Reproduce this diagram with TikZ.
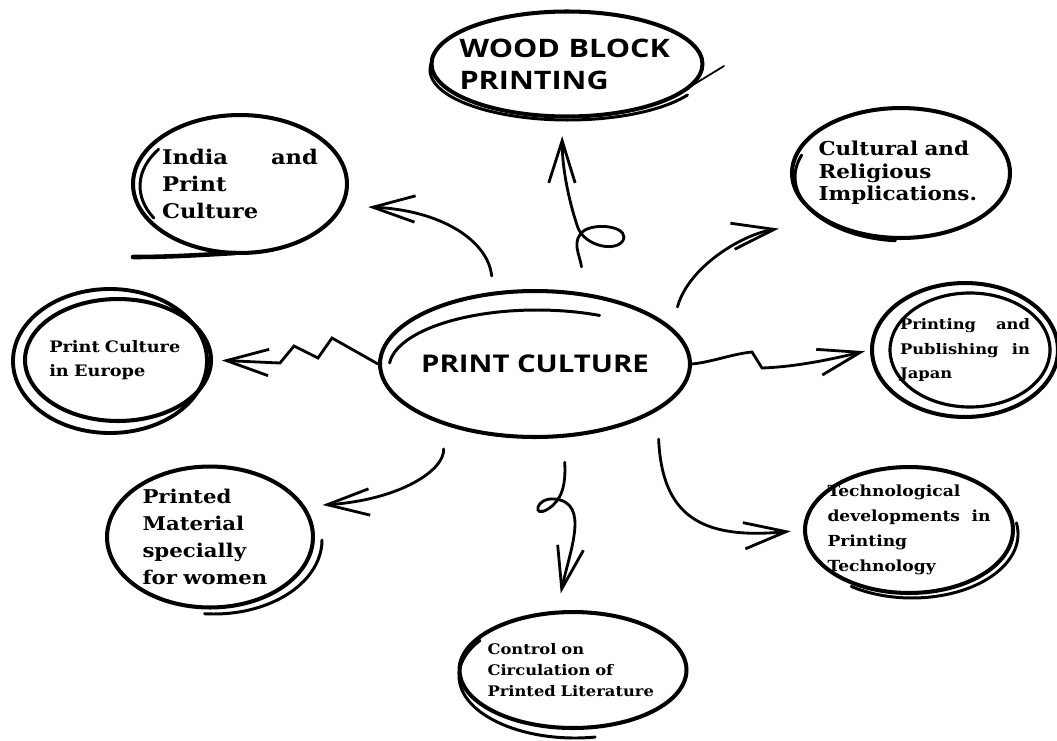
\documentclass[tikz,border=0pt]{standalone}
\usepackage{fontspec}
\usetikzlibrary{shapes.geometric,arrows.meta}
\newfontfamily\bubfont[FakeStretch=1.12]{DejaVu Serif}
\newfontfamily\headfont[FakeStretch=1.2]{Open Sans}
\newcommand\bubsize[2]{\bubfont\bfseries\fontsize{#1}{#2}\selectfont}
\newcommand\headsize[2]{\headfont\bfseries\fontsize{#1}{#2}\selectfont}
\tikzset{
  bubble/.style={ellipse, draw, line width=2.3pt, inner xsep=-15pt, inner ysep=-6pt, align=left},
  ring/.style={line width=1.7pt, line cap=round},
  arr/.style={line width=1.6pt, line cap=round, -{Straight Barb[length=24pt,width=15pt]}}
}
\begin{document}
\begin{tikzpicture}[x=0.02cm, y=-0.02cm]
\useasboundingbox (0,0) rectangle (1057,740);

%centre
\node[bubble, minimum width=6.2cm, minimum height=2.92cm, font=\headsize{13.9}{17}] (pc) at (535,364) {PRINT CULTURE};

%topics
\node[bubble, minimum width=5.42cm, minimum height=2.1cm, text width=4.3cm, font=\headsize{14.5}{18.2}] (wood) at (567,64) {WOOD BLOCK\\PRINTING};
\node[bubble, minimum width=4.28cm, minimum height=2.76cm, text width=3.12cm, font=\bubsize{11.5}{15.4}] (india) at (240,184) {India\hfill and\\Print\\Culture};
\node[bubble, minimum width=4.36cm, minimum height=2.6cm, text width=3.3cm, font=\bubsize{10.9}{12.8}] (cultural) at (901,173) {Cultural and\\Religious\\Implications.};
\node[bubble, minimum width=3.72cm, minimum height=2.44cm, text width=2.75cm, font=\bubsize{9}{13.7}] (europe) at (118,360) {Print Culture\\in Europe};
\node[bubble, minimum width=3.72cm, minimum height=2.68cm, text width=2.6cm, font=\bubsize{8.3}{14.2}] (japan) at (965,350) {Printing\hfill and\\Publishing\hfill in\\Japan};
\node[bubble, minimum width=4.12cm, minimum height=2.82cm, text width=2.7cm, font=\bubsize{10.8}{15.4}] (women) at (210,537) {Printed\\Material\\specially\\for women};
\node[bubble, minimum width=4.16cm, minimum height=2.52cm, text width=3.26cm, font=\bubsize{8.7}{14.2}] (tech) at (909,530) {Technological\\developments\hfill in\\Printing\\Technology};
\node[bubble, minimum width=4.54cm, minimum height=2.32cm, text width=3.42cm, font=\bubsize{8.3}{11.7}] (control) at (573,670) {Control on\\Circulation of\\Printed Literature};

%second strokes
\foreach \cx/\cy/\rx/\ry/\a/\b in {537/368/148/58/185/295, 568/70/138/50/30/190, 243/186/103/64/150/215, 905/177/110/64/95/200, 214/540/108/74/0/95, 912/534/106/64/-10/125, 575/676/116/62/80/215}
  \draw[ring] (\cx,\cy) ++(\a:{\rx} and {\ry}) arc[start angle=\a, end angle=\b, x radius=\rx, y radius=\ry];
\draw[ring, line width=2.2pt] (110,361) ellipse [x radius=97, y radius=72];
\draw[ring, line width=1.8pt] (970,350) ellipse [x radius=80, y radius=57];
\draw[ring, line width=2.6pt] (133,257) .. controls (170,257) and (200,255) .. (235,253);
\draw[ring, line width=1pt] (688,88) -- (724,66);

%arrows
\draw[arr, shorten <=15pt, shorten >=10pt] (pc.55) .. controls (580,255) and (570,240) .. (585,230) .. controls (600,222) and (632,228) .. (622,242) .. controls (612,252) and (585,245) .. (578,228) .. controls (570,205) and (562,170) .. (wood.265);
\draw[arr, shorten <=9pt, shorten >=14pt] (pc.120) .. controls (488,240) and (440,210) .. (india.-12);
\draw[arr, shorten <=12pt, shorten >=26pt] (pc.15) .. controls (688,268) and (740,235) .. (cultural.212);
\draw[arr, shorten >=5pt] (pc.west) -- (332,338) -- (318,358) -- (294,346) -- (280,363) -- (europe.east);
\draw[arr, shorten >=3pt] (pc.east) .. controls (712,362) and (732,354) .. (752,352) -- (762,368) .. controls (790,367) and (820,362) .. (japan.west);
\draw[arr, shorten <=14pt, shorten >=10pt] (pc.213) .. controls (445,470) and (400,500) .. (women.18);
\draw[arr, shorten <=14pt, shorten >=10pt] (pc.-69) .. controls (566,485) and (562,500) .. (548,509) .. controls (532,519) and (535,497) .. (555,499) .. controls (590,503) and (570,550) .. (control.105);
\draw[arr, shorten <=16pt, shorten >=7pt] (pc.-21) .. controls (662,515) and (700,540) .. (tech.west);
\end{tikzpicture}
\end{document}
